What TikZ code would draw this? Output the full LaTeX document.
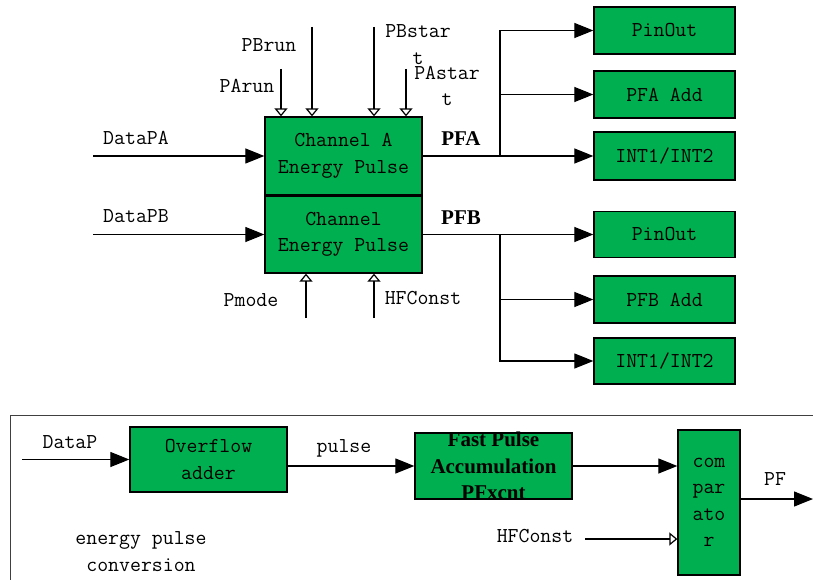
\documentclass[tikz,border=0pt]{standalone}
\usepackage{fontspec}
\usepackage{xcolor}
\usepackage{tikz}
\usetikzlibrary{arrows.meta,calc}
\setmainfont{Liberation Serif}
\definecolor{boxgreen}{HTML}{00B050}
\definecolor{frame}{HTML}{404040}
\tikzset{
  blk/.style={draw=black, fill=boxgreen, line width=1.3pt, inner sep=0pt, align=center,
    font=\ttfamily\fontsize{21.2}{26.5}\selectfont},
  flow/.style={draw=black, line width=1.2pt, -{Triangle[length=19pt,width=15pt]}},
  ctrl/.style={draw=black, line width=1.2pt, -{Triangle[open,length=8pt,width=13pt]}},
  wire/.style={draw=black, line width=1.2pt},
  lab/.style={font=\ttfamily\fontsize{21.2}{26.5}\selectfont, inner sep=0pt, align=center},
  tag/.style={font=\bfseries\fontsize{21}{26.5}\selectfont, inner sep=0pt, align=center},
}

\begin{document}
\begin{tikzpicture}[x=1pt, y=-1pt]
  \useasboundingbox (0,0) rectangle (813,580);

  % two channel blocks
  \node[blk, minimum width=157, minimum height=78] (chA) at (343.5,156) {Channel A\\Energy Pulse};
  \node[blk, minimum width=157, minimum height=77] (chB) at (343.5,234.5) {Channel\\Energy Pulse};

  % outputs of PFA and PFB
  \node[blk, minimum width=141, minimum height=47] (outA1) at (664.5,30.5) {PinOut};
  \node[blk, minimum width=141, minimum height=47] (outA2) at (664.5,94.5) {PFA Add};
  \node[blk, minimum width=141, minimum height=48] (outA3) at (664.5,156) {INT1/INT2};
  \node[blk, minimum width=141, minimum height=46] (outB1) at (664.5,234.5) {PinOut};
  \node[blk, minimum width=141, minimum height=47] (outB2) at (664.5,299.5) {PFB Add};
  \node[blk, minimum width=141, minimum height=46] (outB3) at (664.5,361) {INT1/INT2};

  \coordinate (dA) at (93,156);
  \coordinate (dB) at (93,234.5);
  \coordinate (cPArun) at (281,69);
  \coordinate (cPBrun) at (312,27);
  \coordinate (cPBstart) at (374,27);
  \coordinate (cPAstart) at (406,69);
  \coordinate (cPmode) at (306,318);
  \coordinate (cHFa) at (374,318);
  \coordinate (brA) at (500,156);
  \coordinate (brB) at (500,234.5);

  \node[lab] (tDataPA) at (136,138) {DataPA};
  \node[lab] (tDataPB) at (136,216) {DataPB};
  \node[lab] (tPBrun) at (269,45) {PBrun};
  \node[lab] (tPArun) at (247,86) {PArun};
  \node[lab] (tPBstart) at (418,44.5) {PBstar\\t};
  \node[lab] (tPAstart) at (447,86) {PAstar\\t};
  \node[lab] (tPmode) at (251,300) {Pmode};
  \node[lab] (tHFa) at (423,298) {HFConst};
  \node[tag] (tPFA) at (461,139) {PFA};
  \node[tag] (tPFB) at (461,218) {PFB};

  \draw[flow] (dA) -- (dA -| chA.west);
  \draw[flow] (dB) -- (dB -| chB.west);
  \draw[ctrl] (cPArun) -- (cPArun |- chA.north);
  \draw[ctrl] (cPBrun) -- (cPBrun |- chA.north);
  \draw[ctrl] (cPBstart) -- (cPBstart |- chA.north);
  \draw[ctrl] (cPAstart) -- (cPAstart |- chA.north);
  \draw[ctrl] (cPmode) -- (cPmode |- chB.south);
  \draw[ctrl] (cHFa) -- (cHFa |- chB.south);

  \draw[flow] (chA.east) -- (outA3.west);
  \draw[flow] (brA) |- (outA1.west);
  \draw[flow] (brA |- outA2.west) -- (outA2.west);
  \draw[flow] (chB.east) -- (outB1.west);
  \draw[flow] (brB) |- (outB3.west);
  \draw[flow] (brB |- outB2.west) -- (outB2.west);

  % energy pulse conversion
  \draw[frame, line width=0.9pt] (10,580) -- (10,415) -- (813,415);

  \node[blk, minimum width=157, minimum height=65] (ovf) at (208.5,459.5) {Overflow\\adder};
  \node[blk, minimum width=157, minimum height=66] (acc) at (493.5,466) {};
  \node[tag] (tacc) at (acc) {Fast Pulse\\Accumulation\\PFxcnt};
  \node[blk, minimum width=62, minimum height=145] (cmp) at (709,502.5) {com\\par\\ato\\r};

  \coordinate (cDataP) at (22,459.5);
  \coordinate (cHFb) at (585,539);
  \coordinate (cPF) at (813,499);

  \node[lab] (tDataP) at (70,442) {DataP};
  \node[lab] (tpulse) at (344,448) {pulse};
  \node[lab] (tHFb) at (535,536) {HFConst};
  \node[lab] (tPF) at (775,479) {PF};
  \node[lab] (tconv) at (141,551.5) {energy pulse\\conversion};

  \draw[flow] (cDataP) -- (cDataP -| ovf.west);
  \draw[flow] (ovf.east |- acc.west) -- (acc.west);
  \draw[flow] (acc.east) -- (acc.east -| cmp.west);
  \draw[ctrl] (cHFb) -- (cHFb -| cmp.west);
  \draw[flow] (cmp.east |- cPF) -- (cPF);
\end{tikzpicture}
\end{document}
